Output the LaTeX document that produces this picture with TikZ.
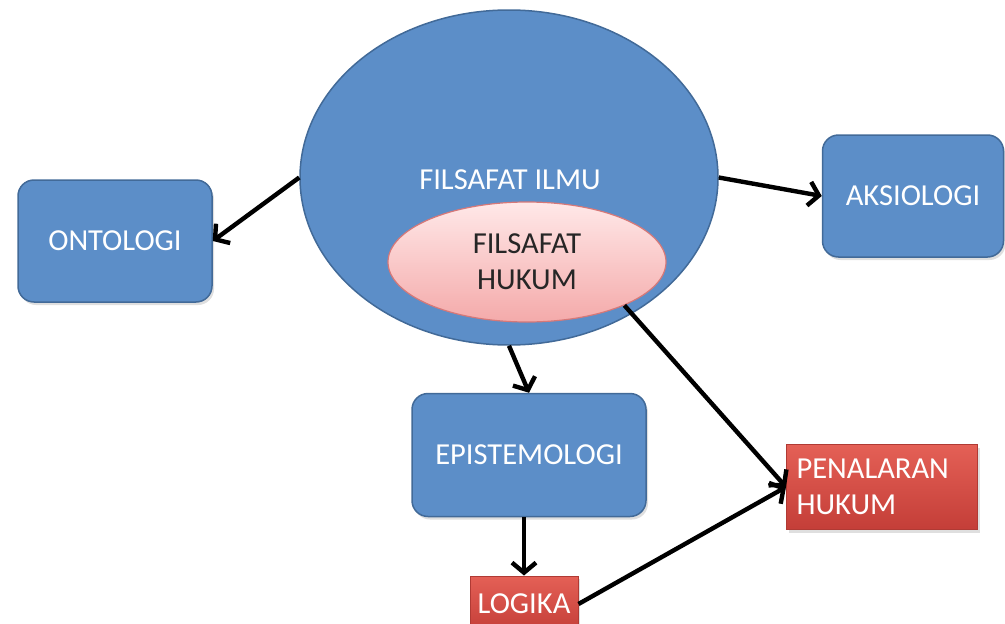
\documentclass[tikz,border=0pt]{standalone}
\usepackage{fontspec}
\setmainfont{Carlito}
\usetikzlibrary{shapes.geometric,arrows.meta,shadows}
\definecolor{bluefill}{RGB}{92,142,200}
\definecolor{blueedge}{RGB}{66,106,152}
\definecolor{redtop}{RGB}{228,96,86}
\definecolor{redbot}{RGB}{196,62,56}
\definecolor{rededge}{RGB}{176,58,52}
\definecolor{pinktop}{RGB}{255,232,232}
\definecolor{pinkbot}{RGB}{244,170,170}
\definecolor{pinkedge}{RGB}{214,120,120}
\tikzset{
  every node/.style={font=\fontsize{30.5}{36}\selectfont},
  softshadow/.style={drop shadow={shadow xshift=2pt,shadow yshift=-3pt,opacity=0.25}},
  bluebox/.style={rectangle,rounded corners=16pt,fill=bluefill,draw=blueedge,line width=1.5pt,text=white,softshadow,inner sep=0pt},
  redbox/.style={rectangle,top color=redtop,bottom color=redbot,draw=rededge,line width=1pt,text=white,softshadow,inner sep=0pt},
  conn/.style={line width=4.4pt,-{Straight Barb[length=10pt,width=24pt]}},
}
\begin{document}
\begin{tikzpicture}[x=1pt,y=-1pt]
\useasboundingbox (0,0) rectangle (1005,624);
% big ellipse
\node[ellipse,fill=bluefill,draw=blueedge,line width=1.5pt,minimum width=418pt,minimum height=335pt,inner sep=0pt] (ilmu) at (509,177.5) {};
\node[text=white] (ilmutext) at (510,180) {FILSAFAT ILMU};
% pink ellipse
\node[ellipse,top color=pinktop,bottom color=pinkbot,draw=pinkedge,line width=1.2pt,minimum width=278pt,minimum height=120pt,inner sep=0pt,align=center,text={black!85}] (hukum) at (527,262) {FILSAFAT\\HUKUM};
% boxes
\node[bluebox,minimum width=194pt,minimum height=122pt] (onto) at (115,241) {ONTOLOGI};
\node[bluebox,minimum width=181pt,minimum height=122pt] (aksi) at (913,196) {AKSIOLOGI};
\node[bluebox,minimum width=234pt,minimum height=123pt] (epi) at (529,455) {EPISTEMOLOGI};
\node[redbox,minimum width=191pt,minimum height=85pt,align=left,text width=171pt] (pen) at (882,487) {PENALARAN\\HUKUM};
\node[redbox,minimum width=108pt,minimum height=56pt] (logika) at (524,604) {LOGIKA};
% connectors
\draw[conn] (ilmu.180) -- (onto.east);
\draw[conn] (ilmu.east) -- (aksi.west);
\draw[conn] (ilmu.south) -- (epi.north);
\draw[conn] (hukum.-24) -- (pen.west);
\draw[conn] (logika.north |- epi.south) -- (logika.north);
\draw[conn] (logika.east) -- (pen.west);
\end{tikzpicture}
\end{document}
